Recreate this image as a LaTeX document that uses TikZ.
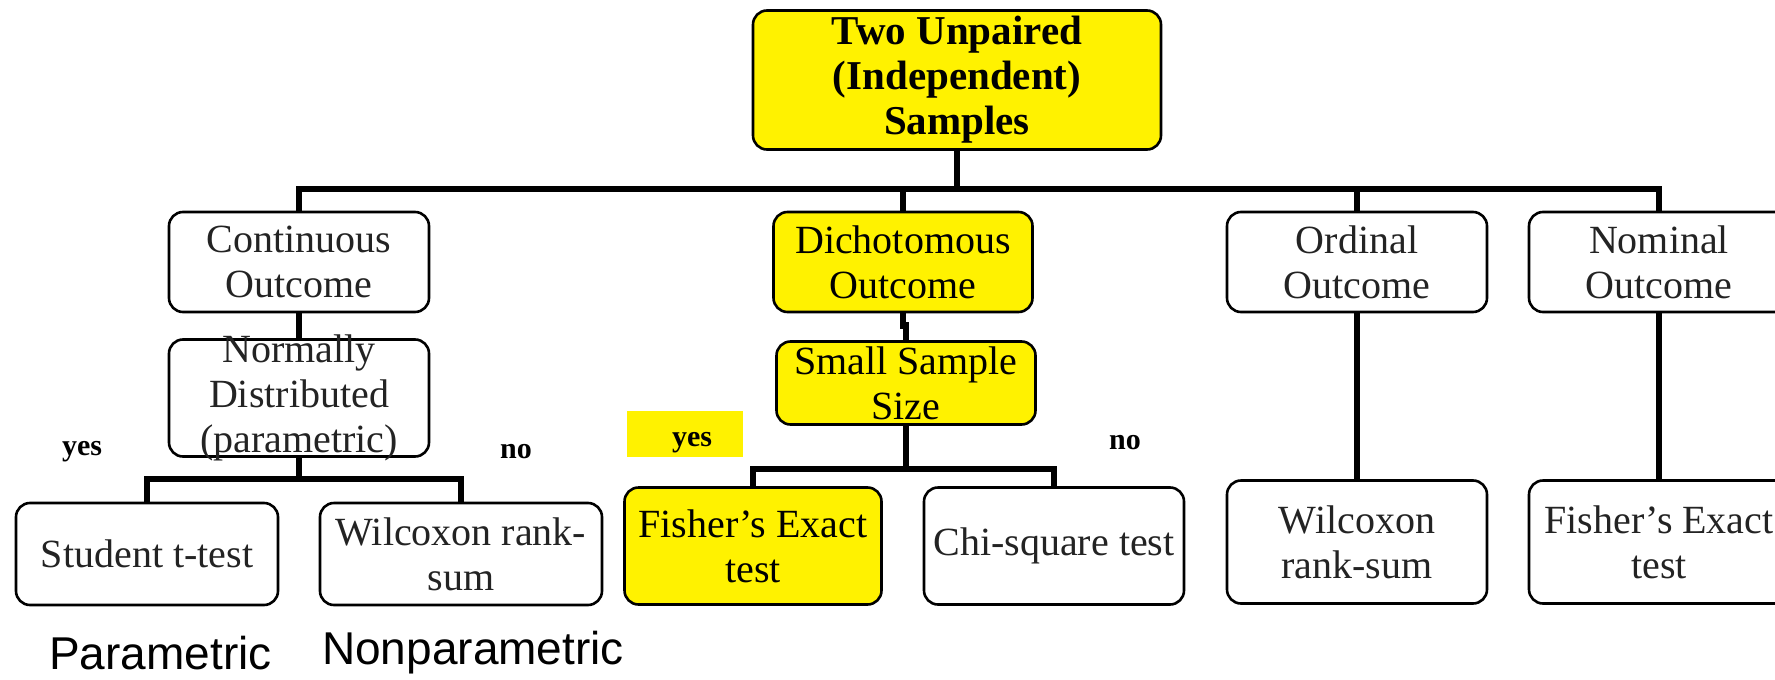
\documentclass[tikz,border=0pt]{standalone}
\usepackage{fontspec}
\setmainfont{Liberation Serif}
\newfontfamily\captionsans{Liberation Sans}
\usetikzlibrary{calc}
\definecolor{hiyellow}{RGB}{255,242,0}
\definecolor{boxtext}{RGB}{35,35,35}
\begin{document}
\begin{tikzpicture}[x=1pt,y=-1pt,
  box/.style={draw=black, line width=2.6pt, rounded corners=14pt, fill=white,
    inner sep=0pt, align=center, text=boxtext,
    font=\fontsize{40}{45}\selectfont},
  hibox/.style={box, fill=hiyellow, text=black},
  boxtxt/.style={inner sep=0pt, align=center, text=boxtext,
    font=\fontsize{40}{45}\selectfont},
  yesno/.style={inner sep=0pt, font=\bfseries\fontsize{30}{34}\selectfont},
  caption/.style={inner sep=0pt, anchor=west,
    font=\captionsans\fontsize{46}{50}\selectfont},
  conn/.style={line width=6.5pt, line join=miter, draw=black}]
\useasboundingbox (0,0) rectangle (1775,680);

% root
\node[hibox, minimum width=408pt, minimum height=139pt,
  font=\bfseries\fontsize{41}{45}\selectfont] (top) at (957,80)
  {Two Unpaired\\(Independent)\\Samples};

% outcome types
\node[box, minimum width=260pt, minimum height=100pt] (cont) at (299,262) {Continuous\\Outcome};
\node[hibox, minimum width=259pt, minimum height=100pt] (dich) at (903,262) {Dichotomous\\Outcome};
\node[box, minimum width=260pt, minimum height=100pt] (ord) at (1357,262) {Ordinal\\Outcome};
\node[box, minimum width=260pt, minimum height=100pt] (nom) at (1659,262) {Nominal\\Outcome};

% second level questions
\node[box, minimum width=260pt, minimum height=117pt] (norm) at (299,398) {};
\node[boxtxt] (normtext) at (norm.center) {Normally\\Distributed\\(parametric)};
\node[hibox, minimum width=259pt, minimum height=83pt] (small) at (906,383) {Small Sample\\Size};

% tests
\node[box, minimum width=262pt, minimum height=102pt] (stud) at (147,554) {Student t-test};
\node[box, minimum width=282pt, minimum height=102pt] (wilc) at (461,554) {Wilcoxon rank-\\sum};
\node[hibox, minimum width=257pt, minimum height=117pt] (fish) at (753,546) {Fisher’s Exact\\test};
\node[box, minimum width=260pt, minimum height=117pt] (chi) at (1054,546) {Chi-square test};
\node[box, minimum width=260pt, minimum height=123pt] (wilc2) at (1357,542) {Wilcoxon\\rank-sum};
\node[box, minimum width=260pt, minimum height=123pt] (fish2) at (1659,542) {Fisher’s Exact\\test};

% branch labels
\node[yesno] (yes1) at (82,452) {yes};
\node[yesno] (no1) at (516,452) {no};
\node[fill=hiyellow, inner sep=0pt, minimum width=116pt, minimum height=46pt] (yesbg) at (685,434) {};
\node[yesno] (yes2) at (692,443) {yes};
\node[yesno] (no2) at (1125,443) {no};

% bottom captions
\node[caption] (par) at (49,653) {Parametric};
\node[caption] (nonpar) at (322,653) {Nonparametric};

% connectors
\coordinate (bus) at (957,189);
\draw[conn] (top.south) -- (bus);
\draw[conn] (cont.north) |- (bus) -| (nom.north);
\draw[conn] (dich.north |- bus) -- (dich.north);
\draw[conn] (ord.north |- bus) -- (ord.north);
\draw[conn] (cont.south) -- (norm.north);
\coordinate (dmid) at ($(dich.south)!0.45!(small.north)$);
\draw[conn] (dich.south) |- (dmid) -| (small.north);
\draw[conn] (ord.south) -- (wilc2.north);
\draw[conn] (nom.south) -- (fish2.north);

\coordinate (njoin) at ($(norm.south)+(0,21)$);
\draw[conn] (norm.south) -- (njoin);
\draw[conn] (stud.north) |- (njoin) -| (wilc.north);

\coordinate (sjoin) at ($(small.south)+(0,43)$);
\draw[conn] (small.south) -- (sjoin);
\draw[conn] (fish.north) |- (sjoin) -| (chi.north);
\end{tikzpicture}
\end{document}
